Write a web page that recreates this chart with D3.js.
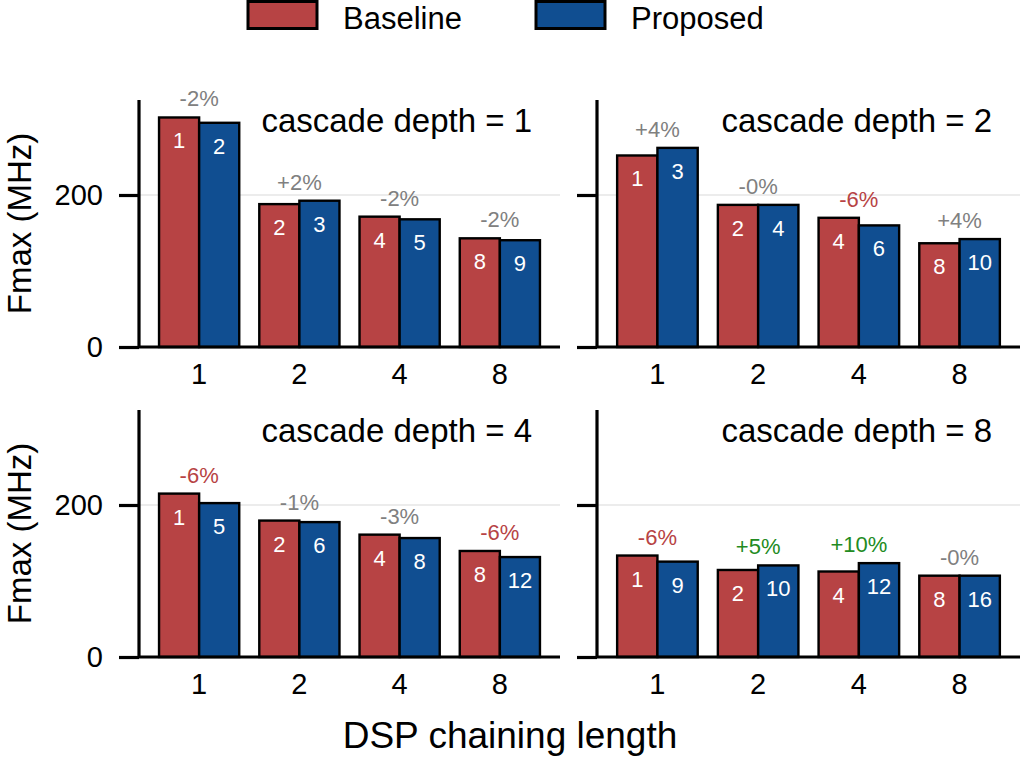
<!DOCTYPE html>
<html>
<head>
<meta charset="utf-8">
<script src="https://cdn.jsdelivr.net/npm/d3@7"></script>
<style>
  html, body { margin: 0; padding: 0; background: #ffffff; }
  svg { display: block; }
  text { font-family: "Liberation Sans", Arial, Helvetica, sans-serif; }
</style>
</head>
<body>
<svg id="chart" width="1021" height="763"></svg>
<script>
// ---------------- data ----------------
const seriesNames = ["Baseline", "Proposed"];
const chainLengths = ["1", "2", "4", "8"];
const cascadeDepths = [1, 2, 4, 8];

const baselineD1 = [302, 188, 171.5, 143];
const proposedD1 = [295, 192.5, 168, 140.5];
const baselineD2 = [252, 187, 170, 136.5];
const proposedD2 = [262, 187, 160, 142];
const baselineD4 = [215, 179.5, 161, 139.5];
const proposedD4 = [202.5, 177.5, 156.5, 131.5];
const baselineD8 = [133.5, 114.5, 112.5, 107];
const proposedD8 = [125.5, 120.5, 123.5, 107];

const baselineIdsD1 = [1, 2, 4, 8];
const proposedIdsD1 = [2, 3, 5, 9];
const baselineIdsD2 = [1, 2, 4, 8];
const proposedIdsD2 = [3, 4, 6, 10];
const baselineIdsD4 = [1, 2, 4, 8];
const proposedIdsD4 = [5, 6, 8, 12];
const baselineIdsD8 = [1, 2, 4, 8];
const proposedIdsD8 = [9, 10, 12, 16];

const changeD1 = ["-2%", "+2%", "-2%", "-2%"];
const changeD2 = ["+4%", "-0%", "-6%", "+4%"];
const changeD4 = ["-6%", "-1%", "-3%", "-6%"];
const changeD8 = ["-6%", "+5%", "+10%", "-0%"];

const yTicks = [0, 200];
const yMax = 325;

// ---------------- style ----------------
const colors = { Baseline: "#b74344", Proposed: "#104e91" };
const pctColors = { neg: "#b74344", pos: "#228b22", neutral: "#808080" };

const panels = [
  { depth: cascadeDepths[0], base: baselineD1, prop: proposedD1, bIds: baselineIdsD1, pIds: proposedIdsD1, change: changeD1, col: 0, row: 0 },
  { depth: cascadeDepths[1], base: baselineD2, prop: proposedD2, bIds: baselineIdsD2, pIds: proposedIdsD2, change: changeD2, col: 1, row: 0 },
  { depth: cascadeDepths[2], base: baselineD4, prop: proposedD4, bIds: baselineIdsD4, pIds: proposedIdsD4, change: changeD4, col: 0, row: 1 },
  { depth: cascadeDepths[3], base: baselineD8, prop: proposedD8, bIds: baselineIdsD8, pIds: proposedIdsD8, change: changeD8, col: 1, row: 1 }
];

const colX = [[139, 560], [597, 1020]];
const rowY = [[100, 347], [410, 657]];

const svg = d3.select("#chart");

panels.forEach(p => {
  const [x0, x1] = colX[p.col];
  const [yTop, yBot] = rowY[p.row];
  const g = svg.append("g");

  const x = d3.scaleBand().domain(chainLengths).range([x0, x1]).paddingInner(0.2).paddingOuter(0.2);
  const xs = d3.scaleBand().domain(seriesNames).range([0, x.bandwidth()]).padding(0);
  const y = d3.scaleLinear().domain([0, yMax]).range([yBot, yTop]);

  // gridline
  g.append("line")
    .attr("x1", x0).attr("x2", x1)
    .attr("y1", y(200)).attr("y2", y(200))
    .attr("stroke", "#e6e6e6").attr("stroke-width", 1.5);

  // bars
  const rows = chainLengths.map((c, i) => ({
    c, i,
    vals: [
      { s: "Baseline", v: p.base[i], id: p.bIds[i] },
      { s: "Proposed", v: p.prop[i], id: p.pIds[i] }
    ],
    change: p.change[i]
  }));

  const grp = g.selectAll("g.grp").data(rows).enter().append("g")
    .attr("transform", d => `translate(${x(d.c)},0)`);

  grp.selectAll("rect").data(d => d.vals).enter().append("rect")
    .attr("x", d => xs(d.s))
    .attr("width", xs.bandwidth())
    .attr("y", d => y(d.v))
    .attr("height", d => y(0) - y(d.v))
    .attr("fill", d => colors[d.s])
    .attr("stroke", "#000").attr("stroke-width", 2.4);

  grp.selectAll("text.id").data(d => d.vals).enter().append("text")
    .attr("class", "id")
    .attr("x", d => xs(d.s) + xs.bandwidth() / 2)
    .attr("y", d => y(d.v) + 31)
    .attr("text-anchor", "middle")
    .attr("fill", "#fff")
    .style("font-size", "22px")
    .text(d => d.id);

  grp.append("text")
    .attr("x", x.bandwidth() / 2)
    .attr("y", d => y(d3.max(d.vals, v => v.v)) - 11)
    .attr("text-anchor", "middle")
    .style("font-size", "22px")
    .attr("fill", d => {
      const n = parseFloat(d.change);
      return n <= -5 ? pctColors.neg : (n >= 5 ? pctColors.pos : pctColors.neutral);
    })
    .text(d => d.change);

  // y axis
  const yAxis = d3.axisLeft(y).tickValues(yTicks).tickSize(20).tickPadding(16)
    .tickFormat(p.col === 0 ? d3.format("d") : () => "");
  const ya = g.append("g").attr("transform", `translate(${x0},0)`).call(yAxis);
  ya.select(".domain").remove();
  ya.selectAll(".tick line").attr("stroke", "#000").attr("stroke-width", 3.2);
  ya.selectAll(".tick text").style("font-size", "29px").attr("fill", "#000");

  // spines
  g.append("line").attr("x1", x0).attr("x2", x0).attr("y1", yTop).attr("y2", yBot)
    .attr("stroke", "#000").attr("stroke-width", 3.2);
  g.append("line").attr("x1", x0).attr("x2", x1).attr("y1", yBot).attr("y2", yBot)
    .attr("stroke", "#000").attr("stroke-width", 3.2);

  // x axis labels
  const xAxis = d3.axisBottom(x).tickSize(0).tickPadding(16);
  const xa = g.append("g").attr("transform", `translate(0,${yBot})`).call(xAxis);
  xa.select(".domain").remove();
  xa.selectAll(".tick text").style("font-size", "29px").attr("fill", "#000");

  // title
  g.append("text")
    .attr("x", x1 - 28).attr("y", yTop + 32)
    .attr("text-anchor", "end")
    .style("font-size", "33px")
    .text(`cascade depth = ${p.depth}`);

  // y label (left column only)
  if (p.col === 0) {
    g.append("text")
      .attr("transform", `translate(31,${(yTop + yBot) / 2}) rotate(-90)`)
      .attr("text-anchor", "middle")
      .style("font-size", "33px")
      .text("Fmax (MHz)");
  }
});

// x label
svg.append("text")
  .attr("x", 510).attr("y", 748)
  .attr("text-anchor", "middle")
  .style("font-size", "37px")
  .text("DSP chaining length");

// legend
const legendItems = [
  { name: seriesNames[0], rx: 248, tx: 343 },
  { name: seriesNames[1], rx: 536, tx: 631 }
];
const lg = svg.append("g");
legendItems.forEach(it => {
  lg.append("rect").attr("x", it.rx).attr("y", 1.5).attr("width", 69).attr("height", 27)
    .attr("fill", colors[it.name]).attr("stroke", "#000").attr("stroke-width", 3);
  lg.append("text").attr("x", it.tx).attr("y", 29).style("font-size", "31px").text(it.name);
});
</script>
</body>
</html>
